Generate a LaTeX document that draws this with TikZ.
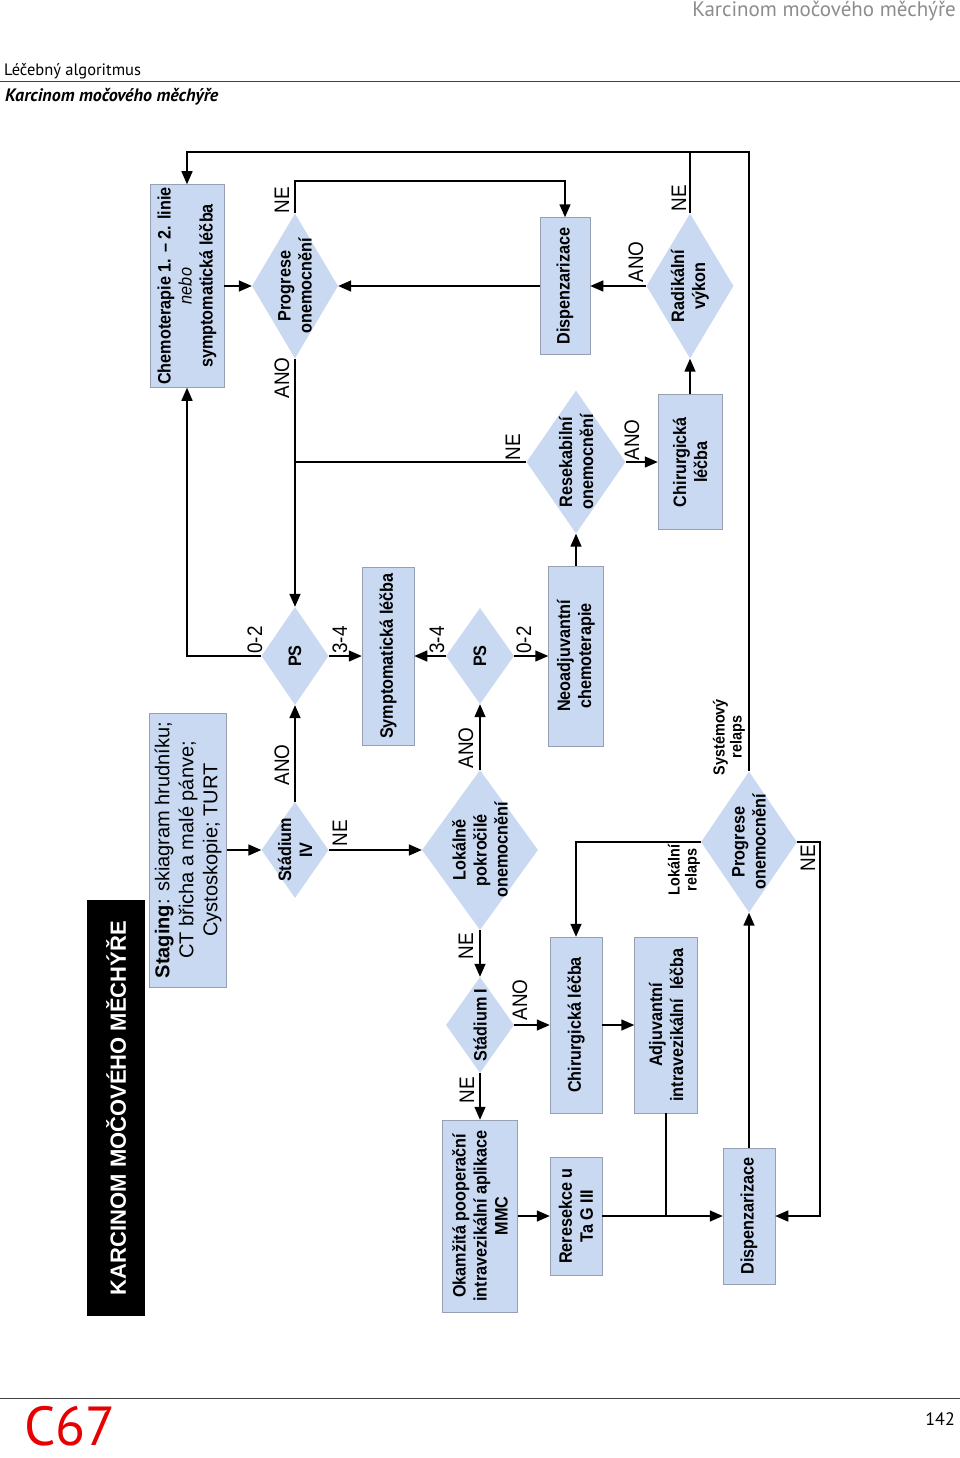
\documentclass[tikz,border=0pt]{standalone}
\usepackage{fontspec}
\setmainfont{Liberation Sans}
\newfontfamily\narrowsans[FakeStretch=0.9]{Liberation Sans}
\newfontfamily\headsans{PT Sans}
\usetikzlibrary{shapes.geometric, arrows.meta, positioning}
\definecolor{boxblue}{RGB}{200,217,241}
\definecolor{boxedge}{RGB}{150,160,178}
\definecolor{headgray}{RGB}{140,140,140}
\definecolor{codered}{RGB}{232,0,0}

\begin{document}
\begin{tikzpicture}[
    x=1pt, y=-1pt,
    box node/.style={rectangle, rotate=90, fill=boxblue, draw=boxedge, line width=0.5pt, inner sep=0pt, align=center, font=\narrowsans\bfseries\fontsize{18}{21}\selectfont},
    decision node/.style={diamond, rotate=90, fill=boxblue, aspect=1.5, inner sep=0pt, align=center, font=\narrowsans\bfseries\fontsize{18}{21}\selectfont},
    answer/.style={rotate=90, inner sep=0pt, font=\narrowsans\fontsize{21}{24}\selectfont},
    relaps/.style={rotate=90, inner sep=0pt, align=center, font=\narrowsans\bfseries\fontsize{16}{17}\selectfont},
    arrow/.style={-{Triangle[length=13pt,width=11pt]}, line width=1.5pt},
    link/.style={line width=1.5pt}
]
\useasboundingbox (0,0) rectangle (960,1458);

% Page head and foot
\node[anchor=base east, inner sep=0pt, text=headgray, font=\headsans\fontsize{21}{24}\selectfont] (runhead) at (956,17) {Karcinom močového měchýře};
\node[anchor=base west, inner sep=0pt, font=\headsans\fontsize{16.5}{18}\selectfont] (chapter) at (4,76) {Léčebný algoritmus};
\draw[line width=1pt, black!75] (0,82) -- (960,82);
\node[anchor=base west, inner sep=0pt, font=\headsans\bfseries\itshape\fontsize{18}{20}\selectfont] (subject) at (5,102) {Karcinom močového měchýře};
\draw[line width=1pt, black!75] (0,1398) -- (960,1398);
\node[anchor=base west, inner sep=0pt, text=codered, font=\headsans\fontsize{55}{57}\selectfont] (code) at (24,1445) {C67};
\node[anchor=base east, inner sep=0pt, font=\headsans\fontsize{18}{20}\selectfont] (pageno) at (955,1425) {142};

% Title bar
\node[rectangle, rotate=90, fill=black, text=white, minimum width=416, minimum height=58, font=\bfseries\fontsize{22}{24}\selectfont] (title) at (116,1108) {KARCINOM MOČOVÉHO MĚCHÝŘE};

% Diagnosis
\node[box node, minimum width=274, minimum height=77, font=\fontsize{20}{24}\selectfont] (staging) at (188,850) {\textbf{Staging}: skiagram hrudníku;\\CT břicha a malé pánve;\\Cystoskopie; TURT};
\node[decision node, minimum width=96, minimum height=67, inner sep=-7pt] (stage4) at (295,850) {Stádium\\IV};

% Stage IV branch
\node[decision node, minimum width=98, minimum height=67] (ps1) at (295,656) {PS};
\node[box node, minimum width=203, minimum height=74] (chemo) at (187,286) {Chemoterapie 1. – 2. linie\\{\mdseries\itshape nebo}\\symptomatická léčba};
\node[decision node, minimum width=145, minimum height=86, inner sep=-7pt] (progress1) at (295,286) {Progrese\\onemocnění};
\node[box node, minimum width=178, minimum height=52] (symptom) at (388,656) {Symptomatická léčba};

% Locally advanced branch
\node[decision node, minimum width=160, minimum height=116, inner sep=-7pt] (locadv) at (480,850) {Lokálně\\pokročilé\\onemocnění};
\node[decision node, minimum width=96, minimum height=68] (ps2) at (480,656) {PS};
\node[box node, minimum width=180, minimum height=55] (neoadj) at (576,656) {Neoadjuvantní\\chemoterapie};
\node[decision node, minimum width=143, minimum height=99, inner sep=-4pt] (resect) at (576,462) {Resekabilní\\onemocnění};
\node[box node, minimum width=135, minimum height=64] (surgery1) at (690,462) {Chirurgická\\léčba};
\node[decision node, minimum width=145, minimum height=87] (radical) at (690,286) {Radikální\\výkon};
\node[box node, minimum width=137, minimum height=50] (followup1) at (565,286) {Dispenzarizace};

% Superficial branch
\node[decision node, minimum width=96, minimum height=68, inner sep=-2pt] (stage1) at (480,1025) {Stádium I};
\node[box node, minimum width=192, minimum height=75] (mmc) at (480,1216) {Okamžitá pooperační\\intravezikální aplikace\\MMC};
\node[box node, minimum width=118, minimum height=52] (reresect) at (576,1216) {Reresekce u\\Ta G III};
\node[box node, minimum width=176, minimum height=52] (surgery2) at (576,1025) {Chirurgická léčba};
\node[box node, minimum width=176, minimum height=63] (adjuv) at (666,1025) {Adjuvantní\\intravezikální\ \ léčba};
\node[box node, minimum width=136, minimum height=52] (followup2) at (749,1216) {Dispenzarizace};
\node[decision node, minimum width=141, minimum height=96, inner sep=-7pt] (progress2) at (749,842) {Progrese\\onemocnění};

% Branch labels
\node[answer] (ne1) at (282,200) {NE};
\node[answer] (ano1) at (282,378) {ANO};
\node[answer] (ps1a) at (255,640) {0-2};
\node[answer] (ps1b) at (340,640) {3-4};
\node[answer] (ano2) at (282,765) {ANO};
\node[answer] (ne2) at (340,833) {NE};
\node[answer] (ano3) at (466,748) {ANO};
\node[answer] (ne3) at (466,946) {NE};
\node[answer] (ps2a) at (437,640) {3-4};
\node[answer] (ps2b) at (524,640) {0-2};
\node[answer] (ne4) at (513,447) {NE};
\node[answer] (ano4) at (632,440) {ANO};
\node[answer] (ano5) at (636,262) {ANO};
\node[answer] (ne5) at (679,198) {NE};
\node[answer] (ano6) at (520,1000) {ANO};
\node[answer] (ne6) at (467,1090) {NE};
\node[answer] (ne7) at (808,858) {NE};
\node[relaps] (sysrel) at (729,737) {Systémový\\relaps};
\node[relaps] (locrel) at (684,870) {Lokální\\relaps};

% Helper points
\coordinate (topR) at (749,152);
\coordinate (topL) at (187,152);
\coordinate (neRow) at (0,181);
\coordinate (neCol) at (820,0);

% Arrows
\draw[arrow] (staging.south) -- (stage4.north);
\draw[arrow] (stage4.east) -- (ps1.west);
\draw[arrow] (stage4.south) -- (locadv.north);
\draw[arrow] (ps1.north) -| (chemo.west);
\draw[arrow] (ps1.south) -- (symptom.north);
\draw[arrow] (chemo.south) -- (progress1.north);
\draw[arrow] (progress1.west) -- (ps1.east);
\draw[arrow] (progress1.east) -- (progress1.east |- neRow) -| (followup1.east);
\draw[arrow] (followup1.north) -- (progress1.south);
\draw[arrow] (locadv.east) -- (ps2.west);
\draw[arrow] (locadv.west) -- (stage1.east);
\draw[arrow] (ps2.north) -- (symptom.south);
\draw[arrow] (ps2.south) -- (neoadj.north);
\draw[arrow] (neoadj.east) -- (resect.west);
\draw[link] (resect.north) -- (resect.north -| progress1.west);
\draw[arrow] (resect.south) -- (surgery1.north);
\draw[arrow] (surgery1.east) -- (radical.west);
\draw[arrow] (radical.north) -- (followup1.south);
\draw[link] (radical.east) -- (radical.east |- topR);
\draw[arrow] (stage1.west) -- (mmc.east);
\draw[arrow] (stage1.south) -- (surgery2.north);
\draw[arrow] (surgery2.south) -- (adjuv.north);
\draw[arrow] (mmc.south) -- (reresect.north);
\draw[arrow] (reresect.south) -- (followup2.north);
\draw[link] (adjuv.west) -- (adjuv.west |- reresect.south);
\draw[arrow] (followup2.east) -- (progress2.west);
\draw[arrow] (progress2.east) -- (topR) -- (topL) -- (chemo.east);
\draw[arrow] (progress2.north) -| (surgery2.east);
\draw[arrow] (progress2.south) -- (progress2.south -| neCol) -- (neCol |- followup2.south) -- (followup2.south);

\end{tikzpicture}
\end{document}
